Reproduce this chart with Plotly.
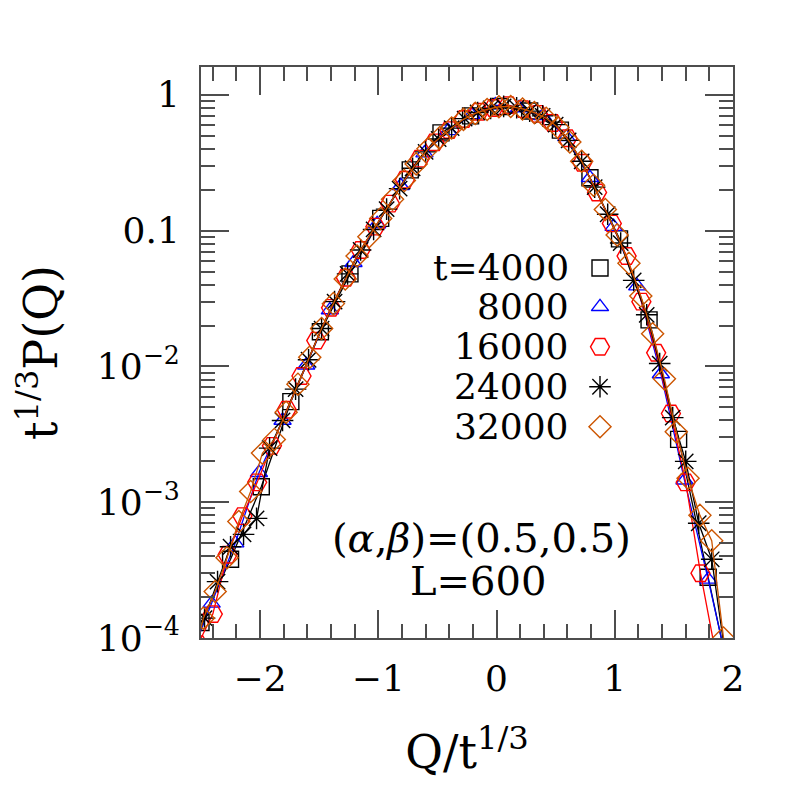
import plotly.graph_objects as go

# ---------------- data ----------------
t_labels = ["t=4000", "8000", "16000", "24000", "32000"]

x_4000 = [-2.76, -2.50, -2.25, -1.99, -1.74, -1.49, -1.24, -0.98, -0.73, -0.47, -0.22, 0.03,
          0.28, 0.54, 0.79, 1.04, 1.29, 1.54, 1.79, 2.05]
y_4000 = [2.0e-5, 1.3e-4, 3.8e-4, 1.3e-3, 5.5e-3, 0.018, 0.048, 0.123, 0.28, 0.525, 0.70, 0.82,
          0.76, 0.55, 0.245, 0.087, 0.022, 0.0029, 2.8e-4, 2.5e-5]

x_8000 = [-2.61, -2.41, -2.21, -2.01, -1.81, -1.61, -1.41, -1.21, -1.01, -0.81, -0.61, -0.41,
          -0.21, -0.01, 0.19, 0.39, 0.59, 0.79, 0.99, 1.19, 1.39, 1.59, 1.79, 1.99]
y_8000 = [6.5e-5, 1.8e-4, 5.0e-4, 1.65e-3, 4.0e-3, 0.0102, 0.026, 0.058, 0.112, 0.214, 0.372, 0.543,
          0.71, 0.84, 0.80, 0.70, 0.49, 0.245, 0.107, 0.039, 0.0088, 1.45e-3, 2.7e-4, 4.5e-5]

x_16000 = [-2.525, -2.40, -2.275, -2.15, -2.025, -1.90, -1.775, -1.65, -1.525, -1.40, -1.275,
           -1.15, -1.025, -0.90, -0.775, -0.65, -0.525, -0.40, -0.275, -0.15, -0.025, 0.10,
           0.225, 0.35, 0.475, 0.60, 0.725, 0.85, 0.975, 1.10, 1.225, 1.35, 1.475, 1.60,
           1.725, 1.85, 1.975]
y_16000 = [9.0e-5, 1.5e-4, 4.1e-4, 7.9e-4, 1.4e-3, 2.6e-3, 4.8e-3, 8.5e-3, 0.0155, 0.027, 0.045,
           0.072, 0.107, 0.158, 0.237, 0.339, 0.447, 0.55, 0.664, 0.75, 0.80, 0.84,
           0.785, 0.724, 0.62, 0.479, 0.316, 0.191, 0.113, 0.065, 0.030, 0.0126, 0.0045, 1.4e-3,
           3.0e-4, 8.0e-5, 3.0e-5]

x_24000 = [-2.58, -2.47, -2.36, -2.25, -2.14, -2.03, -1.92, -1.81, -1.70, -1.59, -1.48, -1.37,
           -1.26, -1.15, -1.04, -0.93, -0.82, -0.71, -0.60, -0.49, -0.38, -0.27, -0.16, -0.05,
           0.06, 0.17, 0.28, 0.39, 0.50, 0.61, 0.72, 0.83, 0.94, 1.05, 1.16, 1.27, 1.38, 1.49,
           1.60, 1.71, 1.82, 1.93]
y_24000 = [8.0e-5, 1.4e-4, 2.6e-4, 4.7e-4, 5.8e-4, 7.6e-4, 2.5e-3, 4.0e-3, 6.8e-3, 0.0112, 0.019,
           0.030, 0.048, 0.072, 0.102, 0.144, 0.204, 0.288, 0.38, 0.473, 0.569, 0.668, 0.741,
           0.794, 0.822, 0.804, 0.759, 0.70, 0.603, 0.462, 0.324, 0.209, 0.132, 0.081, 0.043,
           0.024, 0.0105, 4.2e-3, 2.0e-3, 7.0e-4, 3.8e-4, 8.0e-5]

x_32000 = [-2.58, -2.48, -2.38, -2.28, -2.18, -2.08, -1.98, -1.88, -1.78, -1.68, -1.58, -1.48,
           -1.38, -1.28, -1.18, -1.08, -0.98, -0.88, -0.78, -0.68, -0.58, -0.48, -0.38, -0.28,
           -0.18, -0.08, 0.02, 0.12, 0.22, 0.32, 0.42, 0.52, 0.62, 0.72, 0.82, 0.92, 1.02, 1.12,
           1.22, 1.32, 1.42, 1.52, 1.62, 1.72, 1.82, 1.92, 2.02]
y_32000 = [6.0e-5, 1.4e-4, 2.2e-4, 3.9e-4, 7.2e-4, 1.2e-3, 2.3e-3, 2.9e-3, 4.6e-3, 7.4e-3, 0.0117,
           0.019, 0.029, 0.044, 0.065, 0.090, 0.123, 0.17, 0.234, 0.31, 0.40, 0.484, 0.57, 0.66,
           0.73, 0.78, 0.817, 0.82, 0.787, 0.74, 0.673, 0.575, 0.449, 0.324, 0.216, 0.143, 0.093,
           0.0575, 0.033, 0.0174, 8.1e-3, 3.3e-3, 1.5e-3, 8.0e-4, 5.2e-4, 1.0e-4, 3.0e-5]

series_x = [x_4000, x_8000, x_16000, x_24000, x_32000]
series_y = [y_4000, y_8000, y_16000, y_24000, y_32000]

x_tick_vals = [-2, -1, 0, 1, 2]
x_tick_text = ["\u22122", "\u22121", "0", "1", "2"]
y_tick_vals = [1, 0.1, 0.01, 0.001, 0.0001]
y_tick_text = ["1", "0.1", "10<sup>\u22122</sup>", "10<sup>\u22123</sup>", "10<sup>\u22124</sup>"]

# ---------------- styles ----------------
colors = ["#000000", "#0000ff", "#ff0000", "#000000", "#cc5500"]
symbols = ["square-open", "triangle-up-open", "hexagon2-open", "asterisk-open", "diamond-open"]
sizes = [16, 15, 19, 18, 17]
FONT = "DejaVu Serif"
AX = "#4d4d4d"

fig = go.Figure()
for xs, ys, c, s, sz, name in zip(series_x, series_y, colors, symbols, sizes, t_labels):
    fig.add_trace(go.Scatter(
        x=xs, y=ys, mode="lines+markers", name=name, showlegend=False,
        line=dict(color=c, width=1.3),
        marker=dict(symbol=s, size=sz, color=c, line=dict(color=c, width=1.4)),
    ))

# legend keys on an overlay axis (0..1 box coordinates)
key_x = 0.75
key_y = [0.648, 0.580, 0.510, 0.440, 0.370]
for c, s, sz, ky, name in zip(colors, symbols, sizes, key_y, t_labels):
    fig.add_trace(go.Scatter(
        x=[key_x], y=[ky], mode="markers", xaxis="x2", yaxis="y2", showlegend=False,
        marker=dict(symbol=s, size=sz, color=c, line=dict(color=c, width=1.4)),
        hoverinfo="skip",
    ))

annotations = []
for ky, name in zip(key_y, t_labels):
    annotations.append(dict(xref="paper", yref="paper", x=0.695, y=ky, text=name,
                            xanchor="right", yanchor="middle", showarrow=False,
                            font=dict(family=FONT, size=36, color="black")))
annotations.append(dict(xref="paper", yref="paper", x=0.528, y=0.175,
                        text="(<i>\u03b1</i>,<i>\u03b2</i>)=(0.5,0.5)",
                        xanchor="center", yanchor="middle", showarrow=False,
                        font=dict(family=FONT, size=40, color="black")))
annotations.append(dict(xref="paper", yref="paper", x=0.52, y=0.100, text="L=600",
                        xanchor="center", yanchor="middle", showarrow=False,
                        font=dict(family=FONT, size=40, color="black")))

y_minor = [m * 10.0 ** e for e in range(-4, 1) for m in range(2, 10)]

fig.update_layout(
    width=789, height=789, autosize=False,
    margin=dict(l=193, r=64, t=59, b=159),
    paper_bgcolor="white", plot_bgcolor="white",
    font=dict(family=FONT, color="black"),
    annotations=annotations,
    xaxis=dict(
        range=[-2.5, 2.0], showgrid=False, zeroline=False,
        showline=True, linecolor=AX, linewidth=2, mirror="allticks",
        ticks="inside", ticklen=28, tickwidth=1.8, tickcolor=AX,
        tickvals=x_tick_vals, ticktext=x_tick_text,
        tickfont=dict(family=FONT, size=36, color="black"), ticklabelstandoff=8,
        minor=dict(dtick=0.2, tick0=0, ticks="inside", ticklen=14, tickwidth=1.8,
                   tickcolor=AX, showgrid=False),
        title=dict(text="Q/t<sup>1/3</sup>", font=dict(family=FONT, size=46, color="black"),
                   standoff=38),
    ),
    yaxis=dict(
        type="log", range=[-4, 0.205], showgrid=False, zeroline=False,
        showline=True, linecolor=AX, linewidth=2, mirror="allticks",
        ticks="inside", ticklen=28, tickwidth=1.8, tickcolor=AX,
        tickvals=y_tick_vals, ticktext=y_tick_text,
        tickfont=dict(family=FONT, size=36, color="black"), ticklabelstandoff=12,
        minor=dict(tickvals=y_minor, ticks="inside", ticklen=14, tickwidth=1.8,
                   tickcolor=AX, showgrid=False),
        title=dict(text="t<sup>1/3</sup>P(Q)", font=dict(family=FONT, size=46, color="black"),
                   standoff=36),
    ),
    xaxis2=dict(overlaying="x", range=[0, 1], visible=False),
    yaxis2=dict(overlaying="y", range=[0, 1], visible=False),
)

fig.write_html("out.html")
